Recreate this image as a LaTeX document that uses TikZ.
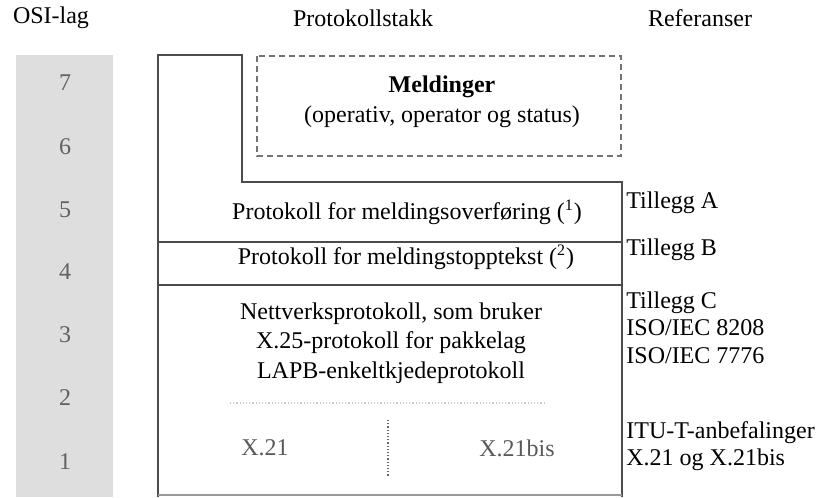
\documentclass[tikz,border=0pt]{standalone}
\usepackage{fontspec}
\setmainfont{Liberation Serif}
\usetikzlibrary{positioning}

\begin{document}
\begin{tikzpicture}[x=.5pt,y=-.5pt,
	frame/.style={draw=black!70,line width=1pt},
	lbl/.style={font=\fontsize{12}{13.8}\selectfont,inner sep=0pt},
	reftext/.style={lbl,anchor=west,align=left},
	layernum/.style={font=\fontsize{12}{14}\selectfont,text=black!62,inner sep=0pt},
	phys/.style={lbl,text=black!65}]
	\useasboundingbox (0,0) rectangle (817,497);
	% column of OSI layers
	\fill[black!13] (16,55) rectangle (113,497);
	\foreach \n/\y in {7/83,6/147,5/210,4/272,3/335,2/398,1/462} \node[layernum] (l\n) at (65,\y) {\n};
	% headings
	\node[lbl] (osi) at (51,18) {OSI-lag};
	\node[lbl] (stack) at (363,18) {Protokollstakk};
	\node[lbl] (refs) at (700,18) {Referanser};
	% outline of the stack
	\path
	(158,497) coordinate (A)
	(158,55) coordinate (B)
	(242,55) coordinate (C)
	(242,182) coordinate (D)
	(622,182) coordinate (E)
	(622,497) coordinate (F)
	(158,242) coordinate (G)
	(622,242) coordinate (H)
	(158,285) coordinate (I)
	(622,285) coordinate (J)
	;
	\draw[frame] (A) -- (B) -- (C) -- (D) -- (E) -- (F);
	\draw[frame] (G) -- (H) (I) -- (J);
	\draw[black!40,line width=.6pt] (158,495) -- (622,495);
	% messages
	\draw[black!55,line width=1pt,densely dashed] (257,56) rectangle (621,156);
	\node[lbl,font=\fontsize{12}{13.8}\selectfont\bfseries] (msg) at (442,87) {Meldinger};
	\node[lbl] (msgtype) at (442,117) {(operativ, operator og status)};
	% layers
	\node[lbl] (transfer) at (407,212) {Protokoll for meldingsoverføring (\textsuperscript{1})};
	\node[lbl] (header) at (406,257) {Protokoll for meldingstopptekst (\textsuperscript{2})};
	\node[lbl,align=center,font=\fontsize{12}{14.75}\selectfont,anchor=north] (net) at (391,302) {Nettverksprotokoll, som bruker\\X.25-protokoll for pakkelag\\LAPB-enkeltkjedeprotokoll};
	\draw[black!20,line width=.6pt,densely dotted] (230,403) -- (545,403);
	\node[phys] (xa) at (265,448) {X.21};
	\node[phys] (xb) at (517,448) {X.21bis};
	\coordinate (S) at (388,420);
	\coordinate (T) at (388,477);
	\draw[black!60,line width=.6pt,densely dotted] (S) -- (T);
	% references
	\node[reftext] (annA) at (626,203) {Tillegg A};
	\node[reftext] (annB) at (626,250) {Tillegg B};
	\node[reftext,anchor=north west] (annC) at (626,291) {Tillegg C\\ISO/IEC 8208\\ISO/IEC 7776};
	\node[reftext,anchor=north west] (itu) at (626,421) {ITU-T-anbefalinger\\X.21 og X.21bis};
\end{tikzpicture}
\end{document}
